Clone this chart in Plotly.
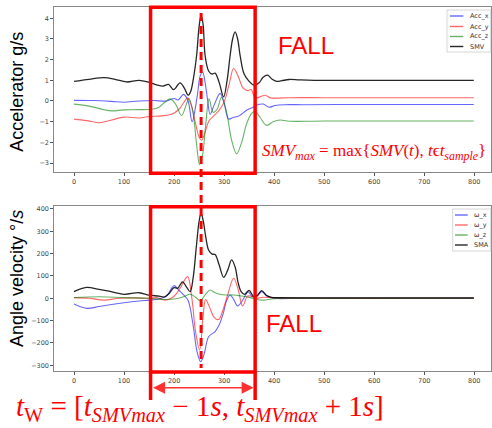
import plotly.graph_objects as go

# ---------------- data ----------------
# top panel: accelerometer (g)
smv_t = [0, 30, 60, 82, 105, 130, 150, 165, 178, 189, 199, 212, 221, 228, 233, 238, 245, 250, 254, 258, 262, 269, 276, 282, 290, 299, 306, 312, 317, 322, 327, 332, 340, 350, 360, 370, 378, 387, 396, 405, 415, 430, 450, 480, 550, 650, 799]
smv_v = [0.95, 1.05, 1.13, 1.05, 0.92, 1.0, 0.9, 0.78, 0.72, 0.8, 0.55, 0.88, 0.6, 0.28, 0.45, 1.0, 2.2, 3.6, 4.15, 3.7, 2.2, 1.45, 1.3, 1.35, 0.9, 0.2, 1.0, 2.2, 3.0, 3.34, 3.0, 2.2, 1.3, 0.95, 0.76, 0.88, 1.15, 1.25, 1.05, 0.95, 0.98, 1.04, 1.02, 1.0, 1.0, 1.0, 1.0]

accx_t = [0, 40, 75, 100, 130, 160, 185, 200, 208, 219, 228, 236, 246, 252, 257, 262, 267, 272, 280, 292, 300, 309, 318, 330, 345, 358, 368, 378, 390, 402, 420, 460, 550, 650, 799]
accx_v = [0.03, 0.02, -0.02, -0.06, 0.0, 0.02, 0.0, 0.12, 0.05, 0.32, 0.0, -1.0, 0.2, 1.2, 1.4, 0.9, 0.05, -0.65, -0.2, 0.37, -0.1, -0.87, -0.8, -0.72, -0.45, -0.3, -0.17, -0.15, -0.3, -0.22, -0.18, -0.18, -0.17, -0.17, -0.17]

accy_t = [0, 25, 50, 75, 100, 130, 150, 175, 195, 210, 220, 227, 235, 243, 250, 255, 262, 270, 280, 290, 300, 310, 319, 328, 338, 347, 354, 362, 372, 382, 392, 405, 430, 500, 650, 799]
accy_v = [-0.88, -0.95, -1.05, -0.92, -0.78, -0.82, -0.75, -0.72, -0.64, -0.4, -0.05, 0.15, -0.25, -1.1, -1.75, -1.9, -1.5, -0.95, -0.7, -0.45, -0.05, 0.8, 1.57, 1.2, 0.62, 0.5, 0.55, 0.15, 0.2, 0.28, 0.15, 0.14, 0.16, 0.16, 0.16, 0.16]

accz_t = [0, 30, 60, 75, 100, 130, 155, 170, 182, 192, 203, 215, 224, 230, 238, 245, 251, 257, 263, 270, 278, 286, 295, 305, 315, 325, 335, 345, 355, 362, 372, 385, 398, 412, 430, 500, 650, 799]
accz_v = [-0.15, -0.25, -0.42, -0.48, -0.43, -0.42, -0.4, -0.3, -0.05, 0.1, -0.15, -0.7, -0.2, 0.12, -0.6, -2.1, -3.08, -2.6, -1.2, 0.1, -0.55, -0.4, 0.18, -0.55, -1.9, -2.55, -2.0, -1.1, -0.6, -0.5, -0.8, -1.18, -1.0, -0.92, -0.98, -0.97, -0.97, -0.97]

# bottom panel: gyroscope (deg/s)
sma_t = [0, 25, 50, 70, 100, 130, 150, 170, 180, 190, 200, 207, 217, 225, 232, 238, 244, 250, 254, 258, 263, 269, 276, 282, 290, 299, 307, 315, 322, 328, 334, 341, 350, 358, 366, 375, 385, 395, 410, 450, 550, 650, 799]
sma_v = [30, 49, 40, 32, 18, 25, 14, 10, 6, 22, 48, 45, 74, 50, 30, 90, 220, 345, 381, 350, 280, 216, 198, 196, 150, 94, 125, 172, 140, 70, 30, 18, 36, 10, 12, 34, 12, 4, 3, 2, 2, 2, 2]

wx_t = [0, 25, 50, 75, 100, 130, 150, 170, 185, 200, 210, 219, 228, 238, 246, 253, 260, 269, 282, 290, 298, 305, 312, 319, 327, 336, 348, 356, 364, 375, 386, 400, 450, 550, 650, 799]
wx_v = [-26, -45, -37, -28, -20, -12, -8, -3, 10, 57, 35, 15, -10, -120, -240, -284, -250, -172, -149, -120, -70, -10, 15, -5, -34, -12, 28, 8, 5, 30, 10, 0, 0, 0, 0, 0]

wy_t = [0, 30, 60, 90, 120, 150, 165, 182, 199, 212, 227, 235, 243, 251, 258, 263, 270, 280, 289, 298, 307, 319, 328, 337, 347, 356, 365, 378, 400, 500, 650, 799]
wy_v = [3, 0, -8, 0, 2, 0, 3, -8, 7, 45, 97, 10, -150, -231, -80, -5, -35, -85, -95, -50, 15, 90, 40, -34, 10, 8, 0, 5, 2, 0, 0, 0]

wz_t = [0, 50, 100, 150, 180, 200, 219, 232, 243, 252, 262, 272, 282, 292, 305, 319, 335, 352, 365, 380, 395, 420, 550, 799]
wz_v = [3, 7, 3, 0, -5, -3, 7, 18, 5, -11, 15, 37, 25, 18, 15, 15, 10, 3, -5, -8, -3, 0, 0, 0]

acc_names = ["Acc_x", "Acc_y", "Acc_z", "SMV"]
gyro_names = ["ω_x", "ω_y", "ω_z", "SMA"]

x_ticks = list(range(0, 801, 100))
acc_ticks = list(range(-3, 5))
gyro_ticks = list(range(-300, 401, 100))

t_smv_max = 254          # time of SMV peak
window = (153, 362)      # fall window

# ---------------- layout helpers ----------------
W, H = 492, 428
def px(x):
    return x / W
def py(y):
    return 1 - y / H

colors = ["rgba(0,0,255,0.6)", "rgba(255,0,0,0.6)", "rgba(0,128,0,0.6)", "rgba(0,0,0,0.85)"]
widths = [1.1, 1.1, 1.1, 1.3]

fig = go.Figure()
acc_series = [(accx_t, accx_v), (accy_t, accy_v), (accz_t, accz_v), (smv_t, smv_v)]
gyro_series = [(wx_t, wx_v), (wy_t, wy_v), (wz_t, wz_v), (sma_t, sma_v)]
for (t, v), n, c, w in zip(acc_series, acc_names, colors, widths):
    fig.add_trace(go.Scatter(x=t, y=v, name=n, mode="lines", xaxis="x", yaxis="y",
                             line=dict(color=c, width=w, shape="spline", smoothing=1.0),
                             showlegend=False))
for (t, v), n, c, w in zip(gyro_series, gyro_names, colors, widths):
    fig.add_trace(go.Scatter(x=t, y=v, name=n, mode="lines", xaxis="x2", yaxis="y2",
                             line=dict(color=c, width=w, shape="spline", smoothing=1.0),
                             showlegend=False))

tickfont = dict(family="DejaVu Sans", size=6.5, color="#444")
axis_common = dict(showgrid=False, zeroline=False, showline=True, linecolor="#888", linewidth=1,
                   mirror=True, ticks="outside", ticklen=3, tickwidth=0.8, tickcolor="#555",
                   tickfont=tickfont, automargin=False)
xdom = [px(54.3), px(491)]
xr = [-39.4, 833.4]
fig.update_layout(
    width=W, height=H, margin=dict(l=0, r=0, t=0, b=0),
    paper_bgcolor="white", plot_bgcolor="white", showlegend=False,
    xaxis=dict(domain=xdom, range=xr, tickvals=x_ticks, anchor="y", **axis_common),
    yaxis=dict(domain=[py(172.3), py(7.3)], range=[-3.45, 4.532], tickvals=acc_ticks, anchor="x", **axis_common),
    xaxis2=dict(domain=xdom, range=xr, tickvals=x_ticks, anchor="y2", **axis_common),
    yaxis2=dict(domain=[py(371), py(206)], range=[-325.5, 413.4], tickvals=gyro_ticks, anchor="x2", **axis_common),
)

RED = "#ff0000"
shapes = []
# window boxes
shapes.append(dict(type="rect", xref="x", yref="y domain", x0=window[0], x1=window[1], y0=-0.006, y1=1.0,
                   line=dict(color=RED, width=3.5)))
shapes.append(dict(type="rect", xref="x2", yref="y2 domain", x0=window[0], x1=window[1], y0=-0.006, y1=0.995,
                   line=dict(color=RED, width=3.5)))
# bracket legs below the bottom box
for xv in window:
    shapes.append(dict(type="line", xref="x2", yref="paper", x0=xv, x1=xv, y0=py(372), y1=py(400),
                       line=dict(color=RED, width=3.5)))
# dashed SMV-peak line
shapes.append(dict(type="line", xref="x", yref="paper", x0=t_smv_max, x1=t_smv_max, y0=py(13), y1=py(368),
                   line=dict(color=RED, width=3, dash="8px,5px")))

annotations = []
# double arrow
annotations.append(dict(x=window[1] - 3, y=py(387.7), xref="x2", yref="paper",
                        ax=window[0] + 2, ay=0, axref="x2", ayref="pixel", text="", showarrow=True,
                        arrowhead=2, arrowside="end+start", arrowsize=1.6, arrowwidth=1.5,
                        arrowcolor="#ff3030"))

# manual legends
def add_legend(names, box, x_line, x_text, ys):
    shapes.append(dict(type="rect", xref="paper", yref="paper", x0=px(box[0]), x1=px(box[2]),
                       y0=py(box[3]), y1=py(box[1]), line=dict(color="#cccccc", width=0.8),
                       fillcolor="rgba(255,255,255,0.85)"))
    for n, c, yv in zip(names, colors, ys):
        shapes.append(dict(type="line", xref="paper", yref="paper", x0=px(x_line[0]), x1=px(x_line[1]),
                           y0=py(yv), y1=py(yv), line=dict(color=c, width=1.4)))
        annotations.append(dict(x=px(x_text), y=py(yv), xref="paper", yref="paper", text=n,
                                showarrow=False, xanchor="left", yanchor="middle",
                                font=dict(family="DejaVu Sans", size=6.5, color="#333")))

add_legend(acc_names, (447, 10, 490.7, 52), (450, 463.3), 467.5, [16, 26.5, 36.5, 46.5])
add_legend(gyro_names, (452.7, 209, 490.7, 251), (455, 467.7), 471.5, [215, 225, 235, 245])

# texts
def text(x, y, s, size, family="Liberation Sans", color=RED, xanchor="center", angle=0):
    annotations.append(dict(x=px(x), y=py(y), xref="paper", yref="paper", text=s, showarrow=False,
                            xanchor=xanchor, yanchor="middle", textangle=angle,
                            font=dict(family=family, size=size, color=color)))

text(306, 45, "FALL", 24)
text(293.5, 323, "FALL", 24)
text(260, 152, "<i>SMV</i><sub><i>max</i></sub> = max{<i>SMV</i>(<i>t</i>), <i>t</i>ϵ<i>t</i><sub><i>sample</i></sub>}",
     17, family="Liberation Serif", xanchor="left")
text(14, 408, "<i>t</i><sub>W</sub> = [<i>t</i><sub><i>SMVmax</i></sub> − 1<i>s</i>, <i>t</i><sub><i>SMVmax</i></sub> + 1<i>s</i>]",
     29, family="Liberation Serif", xanchor="left")
text(17, 91.7, "Accelerator g/s", 18, color="black", angle=-90)
text(17, 279, "Angle velocity °/<i>s</i>", 18, color="black", angle=-90)

fig.update_layout(shapes=shapes, annotations=annotations)
fig.write_html("out.html", config={"displayModeBar": False},
               post_script="document.body.style.margin='0';document.body.style.overflow='hidden';")
